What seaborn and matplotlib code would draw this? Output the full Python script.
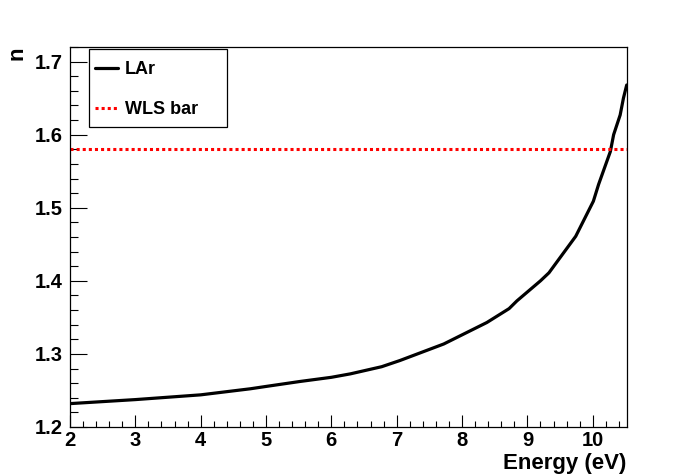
import pandas as pd
import matplotlib
matplotlib.use("Agg")
import matplotlib.pyplot as plt
import seaborn as sns
from matplotlib.ticker import MultipleLocator
from matplotlib.patches import Rectangle

# Indice de refraccion del argon liquido frente a la energia del foton
energy = [2.0, 3.0, 4.0, 4.76, 5.0, 5.52, 6.0, 6.29, 6.77, 7.05, 7.72, 8.38,
          8.72, 8.84, 9.2, 9.33, 9.74, 10.01, 10.09, 10.27, 10.32, 10.42,
          10.47, 10.52]
n_lar = [1.232, 1.2375, 1.244, 1.2523, 1.2555, 1.2623, 1.268, 1.2727, 1.2825,
         1.291, 1.3136, 1.343, 1.362, 1.3726, 1.40, 1.411, 1.461, 1.509,
         1.532, 1.577, 1.60, 1.627, 1.65, 1.668]
n_wls = 1.58

df = pd.DataFrame({"Energy": energy, "n": n_lar})

sns.set_theme(style="white")
plt.rcParams["font.family"] = ["Liberation Sans", "DejaVu Sans"]
plt.rcParams["font.weight"] = "bold"
plt.rcParams["text.color"] = "black"
plt.rcParams["axes.labelcolor"] = "black"
plt.rcParams["xtick.color"] = "black"
plt.rcParams["ytick.color"] = "black"

fig = plt.figure(figsize=(6.96, 4.74), dpi=100)
ax = fig.add_axes([70 / 696, 47 / 474, 556.7 / 696, 380 / 474])

sns.lineplot(data=df, x="Energy", y="n", ax=ax, color="black", linewidth=2.3,
             label="LAr", legend=False)
ax.axhline(n_wls, color="red", linestyle=(0, (1, 1)), linewidth=2.2, label="WLS bar")

ax.set_xlim(2, 10.52)
ax.set_ylim(1.2, 1.72)

ax.xaxis.set_major_locator(MultipleLocator(1))
ax.xaxis.set_minor_locator(MultipleLocator(0.2))
ax.yaxis.set_major_locator(MultipleLocator(0.1))
ax.yaxis.set_minor_locator(MultipleLocator(0.02))
ax.set_xticks([2, 3, 4, 5, 6, 7, 8, 9, 10])
ax.set_xticklabels(["2", "3", "4", "5", "6", "7", "8", "9", "10"])
ax.set_yticks([1.2, 1.3, 1.4, 1.5, 1.6, 1.7])
ax.set_yticklabels(["1.2", "1.3", "1.4", "1.5", "1.6", "1.7"])

ax.tick_params(axis="x", which="major", direction="in", length=8.3, width=0.8,
               labelsize=14.5, pad=3, top=False, bottom=True)
ax.tick_params(axis="x", which="minor", direction="in", length=4.3, width=0.8,
               top=False, bottom=True)
ax.tick_params(axis="y", which="major", direction="in", length=12.2, width=0.8,
               labelsize=14.5, pad=5, left=True, right=False)
ax.tick_params(axis="y", which="minor", direction="in", length=5.8, width=0.8,
               left=True, right=False)
for lab in ax.get_xticklabels() + ax.get_yticklabels():
    lab.set_fontweight("bold")

for sp in ax.spines.values():
    sp.set_visible(True)
    sp.set_color("black")
    sp.set_linewidth(0.9)

ax.set_xlabel("Energy (eV)", fontsize=16, fontweight="bold", loc="right")
ax.xaxis.set_label_coords(1.0, -0.068)
ax.set_ylabel("")
fig.text(6 / 696, 1 - 46 / 474, "n", rotation=90, ha="left", va="top",
         fontsize=16, fontweight="bold")

# caja de la leyenda al estilo ROOT
ax.add_patch(Rectangle(((89 - 70) / 556.7, (427 - 127) / 380), 138 / 556.7, 78 / 380,
                       transform=ax.transAxes, facecolor="white", edgecolor="black",
                       linewidth=0.9, zorder=5))
leg = ax.legend(loc="upper left", bbox_to_anchor=(95 / 696, 1 - 61 / 474),
                bbox_transform=fig.transFigure, frameon=False, borderpad=0,
                borderaxespad=0, handlelength=1.25, handletextpad=0.4,
                labelspacing=1.27, prop={"size": 13, "weight": "bold"})
leg.set_zorder(6)

fig.savefig("out.png", dpi=100)
